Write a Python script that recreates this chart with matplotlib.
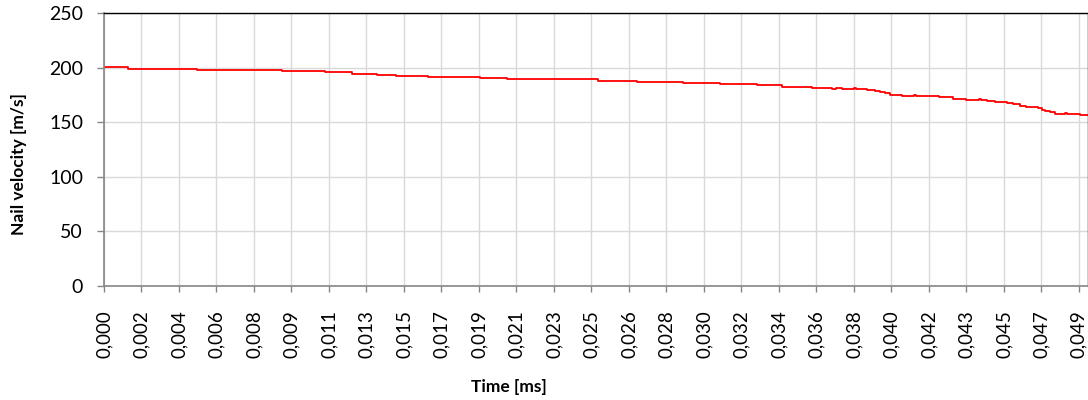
import matplotlib.pyplot as plt

# step breakpoints: time [ms], velocity [m/s]
time_ms = [0.0, 0.00119, 0.00470, 0.00896, 0.01114, 0.01251, 0.01377, 0.01470,
           0.01634, 0.01895, 0.02030, 0.02488, 0.02685, 0.02917, 0.03105, 0.03293,
           0.03419, 0.03567, 0.03669, 0.03688, 0.03718, 0.03780, 0.03790, 0.03844,
           0.03886, 0.03911, 0.03936, 0.03961, 0.04020, 0.04082, 0.04092, 0.04210,
           0.04280, 0.04343, 0.04410, 0.04420, 0.04449, 0.04491, 0.04550, 0.04583,
           0.04617, 0.04647, 0.04709, 0.04726, 0.04743, 0.04768, 0.04793, 0.04843,
           0.04853, 0.04919, 0.04960]
velocity = [200.3, 199.1, 198.0, 197.0, 195.8, 194.5, 193.2, 192.3,
            191.4, 190.5, 189.3, 188.0, 187.0, 186.0, 185.0, 183.8,
            182.6, 181.4, 180.2, 181.4, 180.3, 181.0, 180.3, 179.3,
            178.7, 177.7, 176.5, 175.2, 173.9, 174.8, 173.9, 172.8,
            171.6, 170.6, 171.5, 170.6, 169.5, 168.5, 167.3, 166.4,
            164.8, 164.0, 162.7, 161.2, 160.3, 159.0, 157.8, 158.6,
            157.8, 156.8, 156.5]

tick_pos = [k * 0.00189 for k in range(27)]
tick_labels = ['0,000', '0,002', '0,004', '0,006', '0,008', '0,009', '0,011',
               '0,013', '0,015', '0,017', '0,019', '0,021', '0,023', '0,025',
               '0,026', '0,028', '0,030', '0,032', '0,034', '0,036', '0,038',
               '0,040', '0,042', '0,043', '0,045', '0,047', '0,049']

plt.rcParams['font.family'] = ['Lato', 'DejaVu Sans']

fig = plt.figure(figsize=(10.88, 4.0), dpi=100)
ax = fig.add_axes([104 / 1088, 1 - 286 / 400, 1 - 104 / 1088, (286 - 13) / 400])

ax.step(time_ms, velocity, where='post', color='#FF0000', linewidth=1.3)

ax.set_xlim(0, 0.0496)
ax.set_ylim(0, 250)
ax.set_yticks([0, 50, 100, 150, 200, 250])
ax.set_xticks(tick_pos)
ax.set_xticklabels(tick_labels, rotation=90)

ax.grid(True, color='#D9D9D9', linewidth=1.0)
ax.set_axisbelow(True)

for side in ['left', 'bottom']:
    ax.spines[side].set_color('#868686')
    ax.spines[side].set_linewidth(1.2)
for side in ['top', 'right']:
    ax.spines[side].set_color('black')
    ax.spines[side].set_linewidth(1.0)

ax.tick_params(axis='y', length=5, width=1, color='#868686', pad=10, labelsize=14)
ax.tick_params(axis='x', length=4.5, width=1, color='#868686', pad=13, labelsize=13.5)

fig.text(19 / 1088, 1 - 164 / 400, 'Nail velocity [m/s]', rotation=90,
         ha='center', va='center', fontsize=12.5, fontweight='bold')
fig.text(509 / 1088, 1 - 387 / 400, 'Time [ms]', ha='center', va='center',
         fontsize=12.5, fontweight='bold')

fig.savefig('out.png', dpi=100)
